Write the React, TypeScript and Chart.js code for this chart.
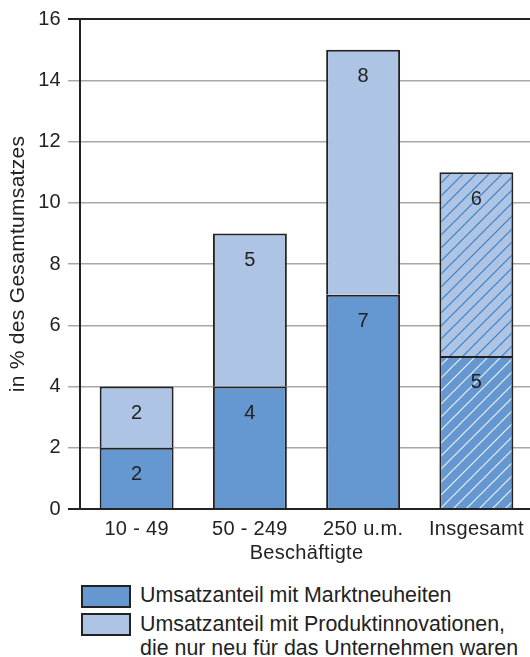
import React, { useEffect, useRef } from 'react';
import { Chart, registerables } from 'chart.js';

Chart.register(...registerables);

// Size classes (number of employees)
const categories = ['10 - 49', '50 - 249', '250 u.m.', 'Insgesamt'];
// Share of turnover from market novelties (%)
const marktneuheiten = [2, 4, 7, 5];
// Share of turnover from products only new to the firm (%)
const firmenneuheiten = [2, 5, 8, 6];
// The total column is drawn hatched
const hatchedCategory = 'Insgesamt';

const yMin = 0;
const yMax = 16;
const yStep = 2;

const yTitle = 'in % des Gesamtumsatzes';
const xTitle = 'Beschäftigte';
const legendMarkt = ['Umsatzanteil mit Marktneuheiten'];
const legendFirma = ['Umsatzanteil mit Produktinnovationen,', 'die nur neu für das Unternehmen waren'];

const FONT = "'Liberation Sans', Arial, Helvetica, sans-serif";
const INK = '#222';
const DARK_BLUE = '#6598d0';
const LIGHT_BLUE = '#aec4e4';
const GRID = '#a8a8a8';
const SPACING = '0.3px';

function makeHatch(bg: string, line: string): CanvasPattern | string {
  const size = 13;
  const c = document.createElement('canvas');
  c.width = size;
  c.height = size;
  const g = c.getContext('2d');
  if (!g) return bg;
  g.fillStyle = bg;
  g.fillRect(0, 0, size, size);
  g.strokeStyle = line;
  g.lineWidth = 1.2;
  g.beginPath();
  g.moveTo(-1, 1);
  g.lineTo(1, -1);
  g.moveTo(0, size);
  g.lineTo(size, 0);
  g.moveTo(size - 1, size + 1);
  g.lineTo(size + 1, size - 1);
  g.stroke();
  return g.createPattern(c, 'repeat') || bg;
}

const letterSpacingPlugin = {
  id: 'letterSpacing',
  beforeUpdate(chart: any) {
    chart.ctx.letterSpacing = SPACING;
  },
  beforeDraw(chart: any) {
    chart.ctx.letterSpacing = SPACING;
  },
};

const valueLabelPlugin = {
  id: 'valueLabels',
  afterDatasetsDraw(chart: any) {
    const ctx = chart.ctx;
    ctx.save();
    ctx.letterSpacing = SPACING;
    ctx.font = `20px ${FONT}`;
    ctx.fillStyle = INK;
    ctx.textAlign = 'center';
    ctx.textBaseline = 'middle';
    chart.data.datasets.forEach((ds: any, di: number) => {
      const meta = chart.getDatasetMeta(di);
      meta.data.forEach((el: any, i: number) => {
        ctx.fillText(String(ds.data[i]), el.x, el.y + 27);
      });
    });
    ctx.restore();
  },
};

export default function App() {
  const canvasRef = useRef<HTMLCanvasElement | null>(null);

  useEffect(() => {
    const canvas = canvasRef.current;
    if (!canvas) return;

    const darkHatch = makeHatch(DARK_BLUE, 'rgba(240,246,252,0.95)');
    const lightHatch = makeHatch(LIGHT_BLUE, '#3a7fc6');

    const bg = (base: string, hatch: CanvasPattern | string) =>
      categories.map((c) => (c === hatchedCategory ? hatch : base));

    const isFrame = (v: number) => v === yMin || v === yMax;

    const chart = new Chart(canvas, {
      type: 'bar',
      data: {
        labels: categories,
        datasets: [
          {
            label: legendMarkt.join(' '),
            data: marktneuheiten,
            backgroundColor: bg(DARK_BLUE, darkHatch) as any,
            borderColor: INK,
            borderWidth: 2,
            barPercentage: 0.653,
            categoryPercentage: 1,
          },
          {
            label: legendFirma.join(' '),
            data: firmenneuheiten,
            backgroundColor: bg(LIGHT_BLUE, lightHatch) as any,
            borderColor: INK,
            borderWidth: 2,
            barPercentage: 0.653,
            categoryPercentage: 1,
          },
        ],
      },
      options: {
        responsive: false,
        animation: false,
        layout: { padding: { top: 18, left: 0, right: 0, bottom: 0 } },
        plugins: {
          legend: { display: false },
          tooltip: { enabled: false },
        },
        scales: {
          x: {
            stacked: true,
            grid: { display: false, drawTicks: false },
            border: { display: false },
            ticks: {
              color: INK,
              font: { family: FONT, size: 20 },
              padding: 8,
              maxRotation: 0,
              autoSkip: false,
            },
            title: {
              display: true,
              text: xTitle,
              color: INK,
              font: { family: FONT, size: 20 },
              padding: { top: 0, bottom: 10 },
            },
            afterFit: (s: any) => {
              s.height = 66;
            },
          },
          y: {
            stacked: true,
            min: yMin,
            max: yMax,
            ticks: {
              stepSize: yStep,
              color: INK,
              font: { family: FONT, size: 20 },
              padding: 7,
            },
            grid: {
              color: (c: any) => (isFrame(c.tick?.value) ? INK : GRID),
              lineWidth: (c: any) => (isFrame(c.tick?.value) ? 2 : 1.5),
              tickLength: 12,
              drawTicks: true,
            },
            border: { display: true, color: INK, width: 2 },
            title: {
              display: true,
              text: yTitle,
              color: INK,
              font: { family: FONT, size: 21 },
              padding: { top: 6, bottom: 0 },
            },
            afterFit: (s: any) => {
              s.width = 80;
            },
          },
        },
      } as any,
      plugins: [letterSpacingPlugin, valueLabelPlugin],
    });

    return () => chart.destroy();
  }, []);

  const box = (top: number, color: string): React.CSSProperties => ({
    position: 'absolute',
    left: 81,
    top,
    width: 50,
    height: 23,
    boxSizing: 'border-box',
    border: `2px solid ${INK}`,
    background: color,
  });

  const text = (top: number): React.CSSProperties => ({
    position: 'absolute',
    left: 140,
    top,
    fontFamily: FONT,
    fontSize: 21.4,
    lineHeight: '24.3px',
    color: INK,
    whiteSpace: 'nowrap',
  });

  return (
    <div
      style={{
        position: 'absolute',
        left: 0,
        top: 0,
        width: 530,
        height: 657,
        overflow: 'hidden',
        background: '#fff',
      }}
    >
      <canvas ref={canvasRef} width={533} height={575} style={{ display: 'block' }} />
      <div style={box(585, DARK_BLUE)} />
      <div style={text(583)}>
        {legendMarkt.map((l) => (
          <div key={l}>{l}</div>
        ))}
      </div>
      <div style={box(613, LIGHT_BLUE)} />
      <div style={text(612)}>
        {legendFirma.map((l) => (
          <div key={l}>{l}</div>
        ))}
      </div>
    </div>
  );
}
